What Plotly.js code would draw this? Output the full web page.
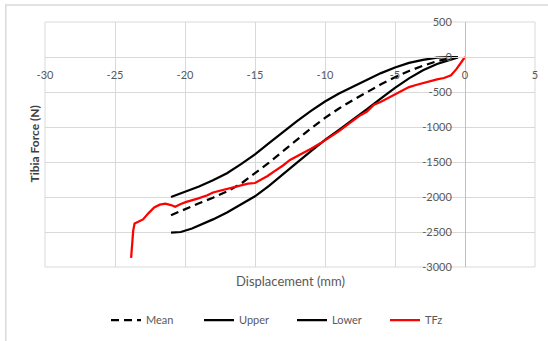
<!DOCTYPE html>
<html>
<head>
<meta charset="utf-8">
<script src="https://cdn.plot.ly/plotly-3.0.1.min.js"></script>
<style>html,body{margin:0;padding:0;background:#fff;}#chart{width:548px;height:341px;}</style>
</head>
<body>
<div id="chart"></div>
<script>
// Mean
var meanX = [-21, -20, -19, -18, -17, -16, -15, -14, -13, -12, -11, -10, -9, -8, -7, -6, -5, -4, -3, -2, -1, -0.5];
var meanY = [-2260, -2170, -2090, -2010, -1920, -1810, -1660, -1510, -1345, -1180, -1020, -870, -735, -615, -500, -390, -290, -200, -125, -60, -15, 0];
// Upper
var upperX = [-21, -20, -19, -18, -17, -16, -15, -14, -13, -12, -11, -10, -9, -8, -7, -6, -5, -4, -3, -2, -1, -0.6];
var upperY = [-2000, -1930, -1850, -1760, -1660, -1530, -1390, -1230, -1070, -915, -770, -635, -520, -420, -325, -230, -150, -85, -40, -10, 0, 0];
// Lower
var lowerX = [-21, -20.3, -19.5, -19, -18, -17, -16, -15, -14, -13, -12, -11, -10, -9, -8, -7, -6, -5, -4, -3, -2, -1, -0.5];
var lowerY = [-2510, -2500, -2450, -2410, -2320, -2220, -2110, -1990, -1840, -1680, -1510, -1345, -1185, -1040, -895, -745, -590, -440, -305, -190, -100, -35, -5];
// TFz
var tfzX = [-23.85, -23.8, -23.7, -23.6, -23.3, -23, -22.6, -22.2, -21.8, -21.4, -21, -20.7, -20.3, -19.9, -19.1, -18.4, -18, -17.5, -16.8, -16, -15.5, -15, -14.6, -14.1, -13.6, -13, -12.5, -12, -11.5, -11, -10.3, -10, -9, -8, -7.5, -7, -6.5, -6, -5.5, -5, -4.5, -4, -3.5, -3, -2.5, -2, -1.5, -1, -0.6, -0.3, -0.1, 0];
var tfzY = [-2870, -2700, -2480, -2380, -2350, -2320, -2230, -2150, -2110, -2095, -2115, -2140, -2100, -2070, -2024, -1976, -1935, -1910, -1870, -1830, -1810, -1800, -1760, -1700, -1630, -1550, -1470, -1420, -1370, -1310, -1230, -1190, -1060, -910, -835, -780, -680, -640, -590, -530, -490, -430, -400, -370, -340, -320, -300, -260, -170, -90, -30, 0];

var xTicks = [-30, -25, -20, -15, -10, -5, 0, 5];
var yTicks = [500, 0, -500, -1000, -1500, -2000, -2500, -3000];

var FONT = 'Lato, "Open Sans", sans-serif';
var GRAY = '#595959';

var traces = [
  {x: meanX, y: meanY, name: 'Mean', mode: 'lines', line: {color: '#000', width: 2.25, dash: '8px,5px'}},
  {x: upperX, y: upperY, name: 'Upper', mode: 'lines', line: {color: '#000', width: 2.25}},
  {x: lowerX, y: lowerY, name: 'Lower', mode: 'lines', line: {color: '#000', width: 2.25}},
  {x: tfzX, y: tfzY, name: 'TFz', mode: 'lines', line: {color: '#ff0000', width: 2.25}}
];

var xr = [-30, 5], yr = [-3000, 500];
var layout = {
  width: 548, height: 341,
  margin: {l: 45, r: 13, t: 22, b: 74},
  paper_bgcolor: '#fff', plot_bgcolor: '#fff',
  font: {family: FONT, color: GRAY, size: 11},
  showlegend: true,
  legend: {orientation: 'h', xref: 'container', yref: 'container',
           x: 292 / 548, xanchor: 'center', y: (341 - 320) / 341, yanchor: 'middle',
           entrywidth: 48, entrywidthmode: 'pixels',
           font: {family: FONT, size: 11, color: GRAY}, traceorder: 'normal'},
  xaxis: {
    range: xr, tickvals: xTicks, ticktext: xTicks.map(String),
    anchor: 'free', position: (0 - yr[0]) / (yr[1] - yr[0]),
    showgrid: true, gridcolor: '#d9d9d9', gridwidth: 1,
    zeroline: false, showline: true, linecolor: '#d9d9d9', linewidth: 1,
    ticks: '', ticklabelstandoff: 8,
    tickfont: {family: FONT, size: 11, color: GRAY}
  },
  yaxis: {
    range: yr, tickvals: yTicks, ticktext: yTicks.map(String),
    anchor: 'free', position: (0 - xr[0]) / (xr[1] - xr[0]), side: 'left',
    showgrid: true, gridcolor: '#d9d9d9', gridwidth: 1,
    zeroline: false, showline: true, linecolor: '#bfbfbf', linewidth: 1,
    ticks: '', ticklabelstandoff: 11,
    tickfont: {family: FONT, size: 11, color: GRAY}
  },
  shapes: [
    {type: 'rect', xref: 'paper', yref: 'paper', x0: 0, x1: 1, y0: 0, y1: 1,
     line: {color: '#d9d9d9', width: 1}, layer: 'below'},
    {type: 'rect', xref: 'paper', yref: 'paper', x0: -0.080, x1: 1.06, y0: -0.4, y1: 1.069,
     line: {color: '#d9d9d9', width: 1.5}, layer: 'below'}
  ],
  annotations: [
    {text: 'Tibia Force (N)', xref: 'paper', yref: 'paper', x: (34 - 45) / 490, y: 0.5,
     textangle: -90, showarrow: false, xanchor: 'center', yanchor: 'middle',
     font: {family: FONT, size: 12, color: '#404040', weight: 'bold'}},
    {text: 'Displacement (mm)', xref: 'paper', yref: 'paper', x: 0.5, y: (267 - 281) / 245,
     showarrow: false, xanchor: 'center', yanchor: 'middle',
     font: {family: FONT, size: 13, color: GRAY}}
  ]
};

Plotly.newPlot('chart', traces, layout, {displayModeBar: false, staticPlot: true});
</script>
</body>
</html>
